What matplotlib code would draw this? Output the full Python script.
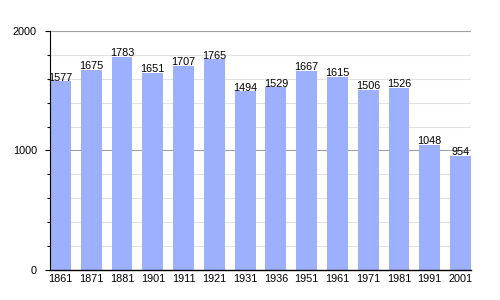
import numpy as np
import matplotlib.pyplot as plt

plt.rcParams['font.family'] = ['Liberation Sans', 'DejaVu Sans']

years = ['1861', '1871', '1881', '1901', '1911', '1921', '1931',
         '1936', '1951', '1961', '1971', '1981', '1991', '2001']
population = [1577, 1675, 1783, 1651, 1707, 1765, 1494,
              1529, 1667, 1615, 1506, 1526, 1048, 954]

fig = plt.figure(figsize=(5, 3), dpi=100)
ax = fig.add_axes([0.1, 0.1, 0.842, 0.797])

x = np.arange(len(years))
ax.bar(x, population, width=0.68, color='#9db0fd', zorder=2)

# value labels sitting right on top of each bar
for xi, v in zip(x, population):
    ax.text(xi, v + 4, str(v), ha='center', va='baseline', fontsize=7.8, zorder=3)

ax.set_xlim(-0.34, len(years) - 1 + 0.34)
ax.set_ylim(0, 2000)
ax.set_xticks(x)
ax.set_xticklabels(years, fontsize=7.8)
ax.set_yticks([0, 1000, 2000])
ax.set_yticklabels(['0', '1000', '2000'], fontsize=7.8)
ax.set_yticks(np.arange(0, 2001, 200), minor=True)

# light grid every 200, darker at the major ticks
for y in np.arange(200, 2001, 200):
    col = '#a0a0a0' if y % 1000 == 0 else '#e2e2e2'
    ax.axhline(y, color=col, linewidth=0.8, zorder=1)

ax.tick_params(axis='x', length=0, pad=3)
ax.tick_params(axis='y', which='major', length=3.6, width=0.8, pad=5.8)
ax.tick_params(axis='y', which='minor', length=2, width=0.8)
ax.spines['top'].set_visible(False)
ax.spines['right'].set_visible(False)
ax.spines['left'].set_linewidth(0.8)
ax.spines['bottom'].set_linewidth(1.0)

fig.savefig('out.png', dpi=100)
